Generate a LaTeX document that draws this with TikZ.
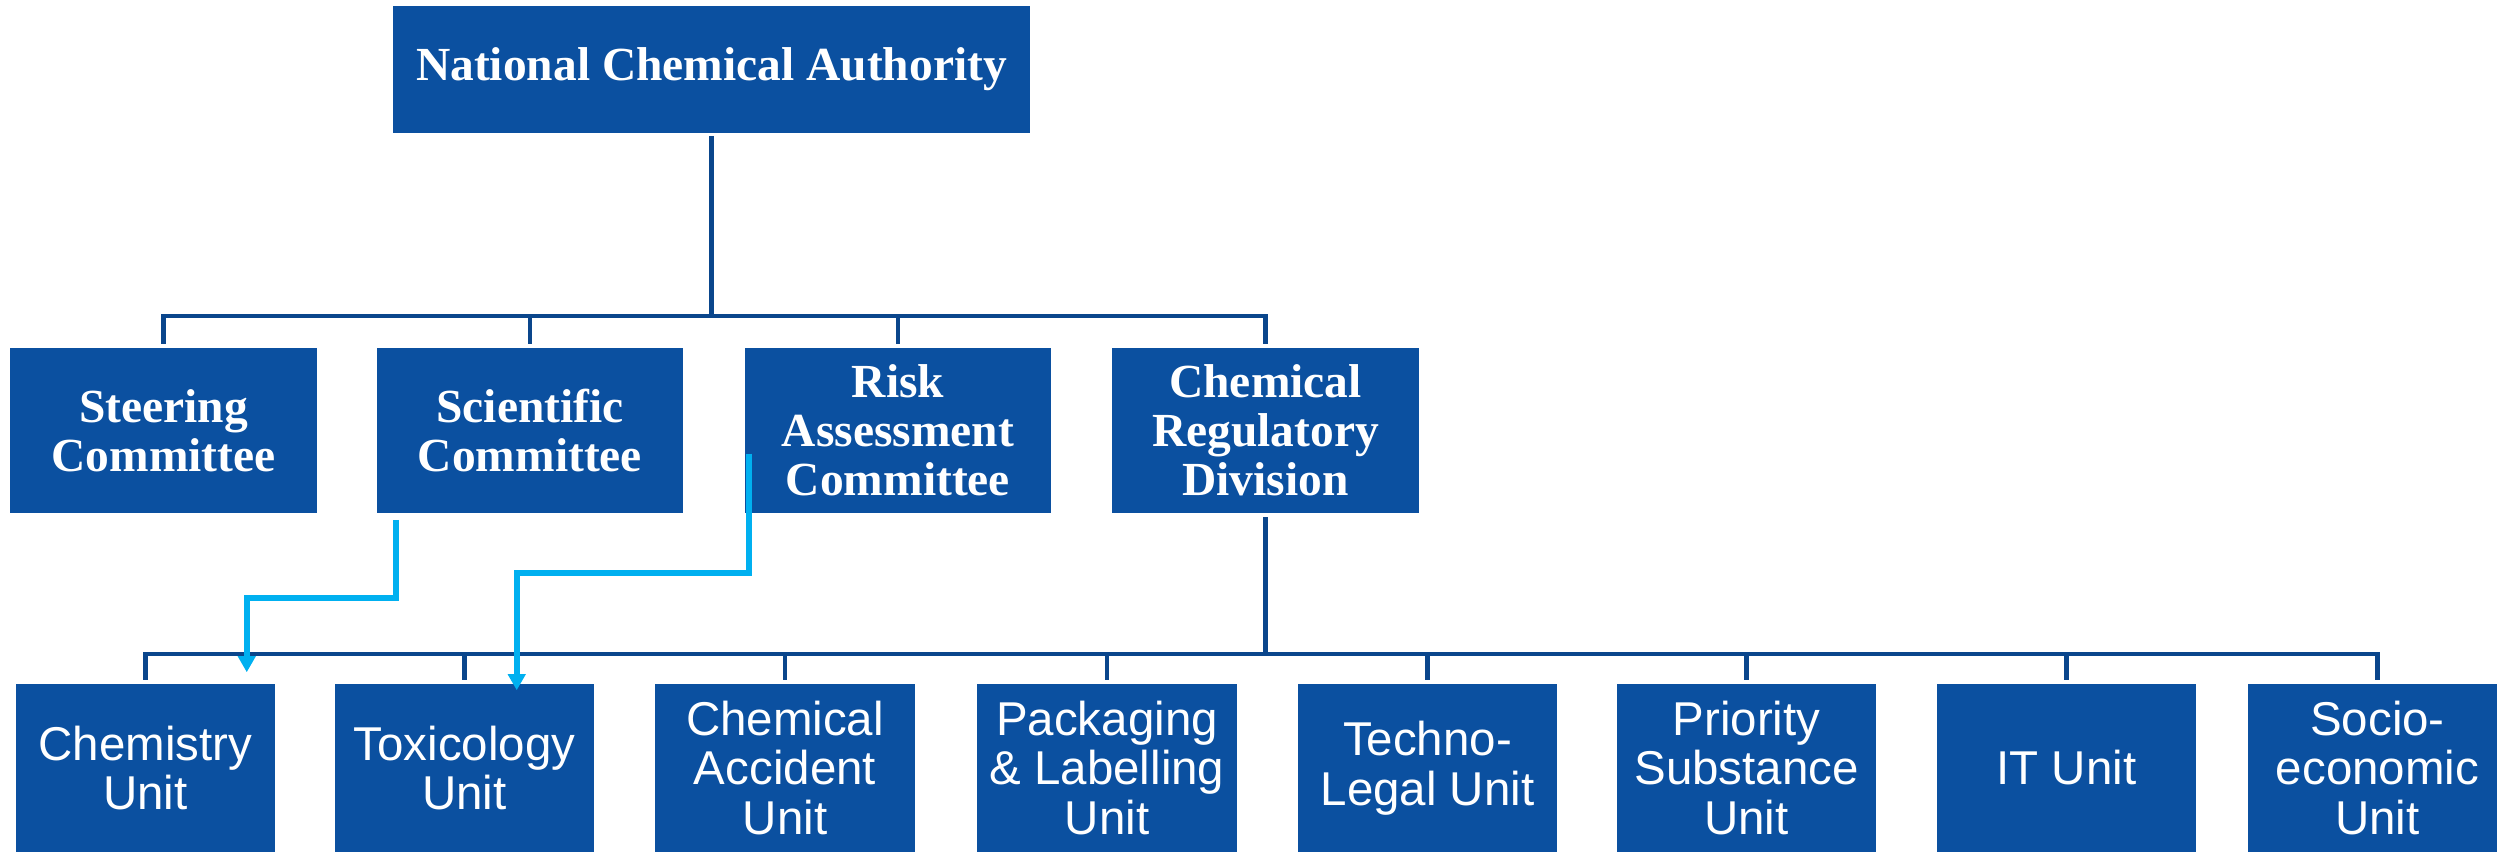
\documentclass[tikz,border=0pt]{standalone}
\usepackage{fontspec}
\setmainfont{Liberation Serif}
\newfontfamily\unitfont{Liberation Sans}
\usetikzlibrary{arrows.meta}

\definecolor{boxblue}{RGB}{11,80,160}
\definecolor{lineblue}{RGB}{10,70,140}
\definecolor{linkcyan}{RGB}{0,176,240}

\begin{document}
\begin{tikzpicture}[
        x=0.01cm, y=-0.01cm,
        authority/.style={rectangle,fill=boxblue,text=white,inner sep=0pt,minimum width=6.37cm,minimum height=1.27cm,font=\bfseries\fontsize{13.5}{14}\selectfont},
        committee/.style={rectangle,fill=boxblue,text=white,inner sep=0pt,align=center,minimum width=3.06cm,minimum height=1.65cm,font=\bfseries\fontsize{13.5}{13.9}\selectfont},
        unit/.style={rectangle,fill=boxblue,text=white,inner sep=0pt,align=center,minimum width=2.59cm,minimum height=1.68cm,font=\unitfont\fontsize{13.5}{14.2}\selectfont},
        trunk/.style={draw=lineblue,line width=1.4pt,line cap=rect},
        link/.style={draw=linkcyan,line width=1.6pt,-{Triangle[length=0.16cm,width=0.17cm]}}
    ]

    \useasboundingbox (0,0) rectangle (2497,852);
    \clip (0,0) rectangle (2497,852);

    \node[authority] (nca) at (711.5,69.5) {National Chemical Authority};

    \node[committee] (steering) at (163.5,430.5) {Steering\\Committee};
    \node[committee] (scientific) at (530,430.5) {Scientific\\Committee};
    \node[committee] (risk) at (898,430.5) {Risk\\Assessment\\Committee};
    \node[committee] (crd) at (1265.5,430.5) {Chemical\\Regulatory\\Division};

    \node[unit] (chem) at (145.5,768) {Chemistry\\Unit};
    \node[unit] (tox) at (464.5,768) {Toxicology\\Unit};
    \node[unit] (accident) at (785,768) {Chemical\\Accident\\Unit};
    \node[unit] (packaging) at (1107,768) {Packaging\\\& Labelling\\Unit};
    \node[unit] (techno) at (1427.5,768) {Techno-\\Legal Unit};
    \node[unit] (priority) at (1746.5,768) {Priority\\Substance\\Unit};
    \node[unit] (itunit) at (2066.5,768) {IT Unit};
    \node[unit] (socio) at (2377.5,768) {Socio-\\economic\\Unit};

    % authority to committees
    \coordinate (topbar) at (711.5,316);
    \draw[trunk,shorten <=0.05cm] (nca) -- (topbar);
    \draw[trunk] (steering.north |- topbar) -- (crd.north |- topbar);
    \foreach \c in {steering,scientific,risk,crd}
        \draw[trunk,shorten >=0.06cm] (\c.north |- topbar) -- (\c.north);

    % division to units
    \coordinate (unitbar) at (1265.5,654);
    \draw[trunk,shorten <=0.06cm] (crd) -- (unitbar);
    \draw[trunk] (chem.north |- unitbar) -- (socio.north |- unitbar);
    \foreach \u in {chem,tox,accident,packaging,techno,priority,itunit,socio}
        \draw[trunk,shorten >=0.06cm] (\u.north |- unitbar) -- (\u.north);

    % committee support links
    \draw[link] ([xshift=0.2cm,yshift=-0.06cm]scientific.south west) -- ++(0,78)
        -| ([xshift=-0.29cm,yshift=0.11cm]chem.north east);
    \draw[link] ([xshift=0.05cm,yshift=0.6cm]risk.south west) -- ++(0,119)
        -| ([xshift=-0.78cm,yshift=-0.07cm]tox.north east);

\end{tikzpicture}
\end{document}
